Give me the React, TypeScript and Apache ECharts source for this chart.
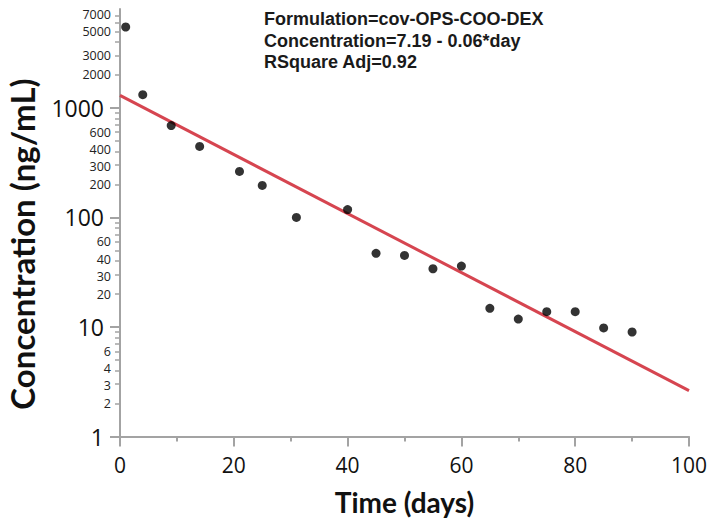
import React, { useEffect, useRef } from "react";
import * as echarts from "echarts";

const days = [1, 4, 9, 14, 21, 25, 31, 40, 45, 50, 55, 60, 65, 70, 75, 80, 85, 90];
const concentrations = [5480, 1320, 690, 445, 263, 196, 100, 118, 47, 45, 34, 36, 14.8, 11.8, 13.8, 13.8, 9.8, 9.0];
const fitDays = [0, 100];
const fitConcentrations = [1300, 2.62];
const majorTickValues = [1, 10, 100, 1000];
const minorTickValues = [
  2, 3, 4, 5, 6, 7, 8, 9,
  20, 30, 40, 50, 60, 70, 80, 90,
  200, 300, 400, 500, 600, 700, 800, 900,
  2000, 3000, 4000, 5000, 6000, 7000,
];
const minorLabelValues = [2, 3, 4, 6, 20, 30, 40, 60, 200, 300, 400, 600, 2000, 3000, 5000, 7000];
const yMin = 1;
const yMax = 8000;
const xMin = 0;
const xMax = 100;
const xInterval = 20;
const annotationLines = [
  "Formulation=cov-OPS-COO-DEX",
  "Concentration=7.19 - 0.06*day",
  "RSquare Adj=0.92",
];
const xTitle = "Time (days)";
const yTitle = "Concentration (ng/mL)";

const AXIS_COLOR = "#a3a3a3";
const NUM_FONT = "'Open Sans', 'Noto Sans', sans-serif";
const TITLE_FONT = "Lato, 'Open Sans', sans-serif";

// round to one significant digit (labels are 1-significant-digit values)
const oneSig = (x: number) => {
  const p = Math.pow(10, Math.floor(Math.log10(x) + 1e-9));
  return Math.round(x / p) * p;
};

export default function App() {
  const ref = useRef<HTMLDivElement>(null);

  useEffect(() => {
    if (!ref.current) return;
    const chart = echarts.init(ref.current, null, { renderer: "svg" });
    const lg = (v: number) => Math.log10(v);
    const gridPos = { left: 120, right: 25, top: 9, bottom: 92.5 };

    // tiny nudges so that tightly packed labels (…4 / …3, 7000 / 5000) do not collide
    const nudge = (v: number) => {
      const lead = String(v)[0];
      if (v === 7000) return 0.01;
      if (lead === "4") return 0.016;
      if (lead === "3" && v !== 3000) return -0.016;
      return 0;
    };

    chart.setOption({
      animation: false,
      backgroundColor: "#ffffff",
      grid: [
        { ...gridPos },
        { ...gridPos },
      ],
      xAxis: [
        {
          type: "value",
          gridIndex: 0,
          min: xMin,
          max: xMax,
          interval: xInterval,
          axisLine: { show: true, lineStyle: { color: AXIS_COLOR, width: 2 } },
          axisTick: { show: true, length: 10, lineStyle: { color: AXIS_COLOR, width: 2 } },
          minorTick: { show: true, splitNumber: 2, length: 5, lineStyle: { color: AXIS_COLOR, width: 2 } },
          splitLine: { show: false },
          axisLabel: { fontSize: 21, color: "#111", fontFamily: NUM_FONT, margin: 18 },
          name: xTitle,
          nameLocation: "middle",
          nameGap: 51,
          nameTextStyle: { fontSize: 28, fontWeight: "bold", color: "#111", fontFamily: TITLE_FONT },
        },
        {
          type: "value",
          gridIndex: 1,
          min: xMin,
          max: xMax,
          show: false,
        },
      ],
      yAxis: [
        {
          type: "value",
          gridIndex: 0,
          min: lg(yMin),
          max: lg(yMax),
          axisLine: { show: true, lineStyle: { color: AXIS_COLOR, width: 2 } },
          axisTick: {
            show: true,
            length: 10,
            customValues: majorTickValues.map(lg),
            lineStyle: { color: AXIS_COLOR, width: 2 },
          },
          axisLabel: {
            customValues: majorTickValues.map(lg),
            formatter: (v: number) => String(oneSig(Math.pow(10, v))),
            fontSize: 23,
            color: "#111",
            fontFamily: NUM_FONT,
            margin: 16,
          },
          splitLine: { show: false },
        },
        {
          type: "value",
          gridIndex: 1,
          min: lg(yMin),
          max: lg(yMax),
          axisLine: { show: false },
          axisTick: {
            show: true,
            length: 5,
            customValues: minorTickValues.map(lg),
            lineStyle: { color: AXIS_COLOR, width: 1.5 },
          },
          axisLabel: {
            customValues: minorLabelValues.map((v) => lg(v) + nudge(v)),
            formatter: (v: number) => String(oneSig(Math.pow(10, v))),
            fontSize: 12.5,
            color: "#222",
            fontFamily: NUM_FONT,
            margin: 9,
          },
          splitLine: { show: false },
        },
      ],
      series: [
        {
          type: "line",
          xAxisIndex: 0,
          yAxisIndex: 0,
          data: fitDays.map((d, i) => [d, lg(fitConcentrations[i])]),
          showSymbol: false,
          lineStyle: { color: "#d64550", width: 3 },
          z: 2,
        },
        {
          type: "scatter",
          xAxisIndex: 0,
          yAxisIndex: 0,
          data: days.map((d, i) => [d, lg(concentrations[i])]),
          symbol: "circle",
          symbolSize: 9,
          itemStyle: { color: "#000" },
          z: 3,
        },
      ],
      graphic: [
        {
          type: "text",
          x: 22,
          y: 244,
          rotation: Math.PI / 2,
          style: {
            text: yTitle,
            fontSize: 33,
            fontWeight: "bold",
            fontFamily: TITLE_FONT,
            fill: "#111",
            align: "center",
            verticalAlign: "middle",
          },
        },
        ...annotationLines.map((t, i) => ({
          type: "text",
          x: 264,
          y: 10 + i * 21.5,
          style: {
            text: t,
            fontSize: 18,
            fontWeight: "bold",
            fontFamily: "'Liberation Sans', Arial, sans-serif",
            fill: "#1a1a1a",
            align: "left",
            verticalAlign: "top",
          },
        })),
      ],
    });

    return () => chart.dispose();
  }, []);

  return (
    <div
      ref={ref}
      style={{ position: "absolute", left: 0, top: 0, width: 714, height: 529 }}
    />
  );
}
